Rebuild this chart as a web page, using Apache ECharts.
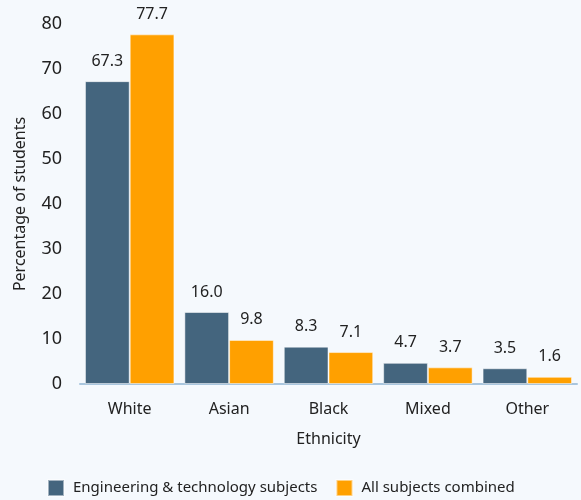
<!DOCTYPE html>
<html>
<head>
<meta charset="utf-8">
<style>
html,body{margin:0;padding:0;background:#f5f9fd;}
#chart{width:581px;height:500px;}
</style>
<script src="https://cdn.jsdelivr.net/npm/echarts@6/dist/echarts.min.js"></script>
</head>
<body>
<div id="chart"></div>
<script>
const categories = ['White', 'Asian', 'Black', 'Mixed', 'Other'];
const engineering = [67.3, 16.0, 8.3, 4.7, 3.5];
const allSubjects = [77.7, 9.8, 7.1, 3.7, 1.6];
const seriesNames = ['Engineering & technology subjects', 'All subjects combined'];
const yTicks = { min: 0, max: 80, interval: 10 };

const FONT = 'Noto Sans';
const chart = echarts.init(document.getElementById('chart'), null, { renderer: 'canvas' });
const labelOpt = {
  show: true, position: 'top', distance: 12,
  color: '#222', fontSize: 16, fontFamily: FONT,
  formatter: p => p.value.toFixed(1)
};
chart.setOption({
  backgroundColor: '#f5f9fd',
  animation: false,
  textStyle: { fontFamily: FONT },
  grid: { left: 80, right: 4, top: 24, bottom: 116, containLabel: false },
  legend: {
    left: 42, top: 474, itemWidth: 16, itemHeight: 16, itemGap: 18,
    icon: 'rect',
    textStyle: { fontSize: 15, color: '#222', fontFamily: FONT, padding: [0, 0, 0, 4] },
    data: seriesNames
  },
  xAxis: {
    type: 'category', data: categories,
    name: 'Ethnicity', nameLocation: 'middle', nameGap: 47,
    nameTextStyle: { fontSize: 16, color: '#222', fontFamily: FONT },
    axisLine: { lineStyle: { color: '#a9c6de', width: 2 } },
    axisTick: { show: false },
    axisLabel: { fontSize: 16, color: '#222', margin: 17, fontFamily: FONT }
  },
  yAxis: {
    type: 'value', min: yTicks.min, max: yTicks.max, interval: yTicks.interval,
    name: 'Percentage of students', nameLocation: 'middle', nameGap: 52,
    nameTextStyle: { fontSize: 16, color: '#222', fontFamily: FONT },
    axisLine: { show: false }, axisTick: { show: false },
    splitLine: { show: false },
    axisLabel: { fontSize: 18, color: '#222', margin: 18, fontFamily: FONT }
  },
  series: [
    {
      name: seriesNames[0], type: 'bar', data: engineering,
      barGap: '0%', barCategoryGap: '10%',
      itemStyle: { color: '#44657e', borderColor: 'rgba(255,255,255,0.5)', borderWidth: 1 },
      label: labelOpt
    },
    {
      name: seriesNames[1], type: 'bar', data: allSubjects,
      barGap: '0%', barCategoryGap: '10%',
      itemStyle: { color: '#ffa000', borderColor: 'rgba(255,255,255,0.5)', borderWidth: 1 },
      label: labelOpt
    }
  ]
});
</script>
</body>
</html>
